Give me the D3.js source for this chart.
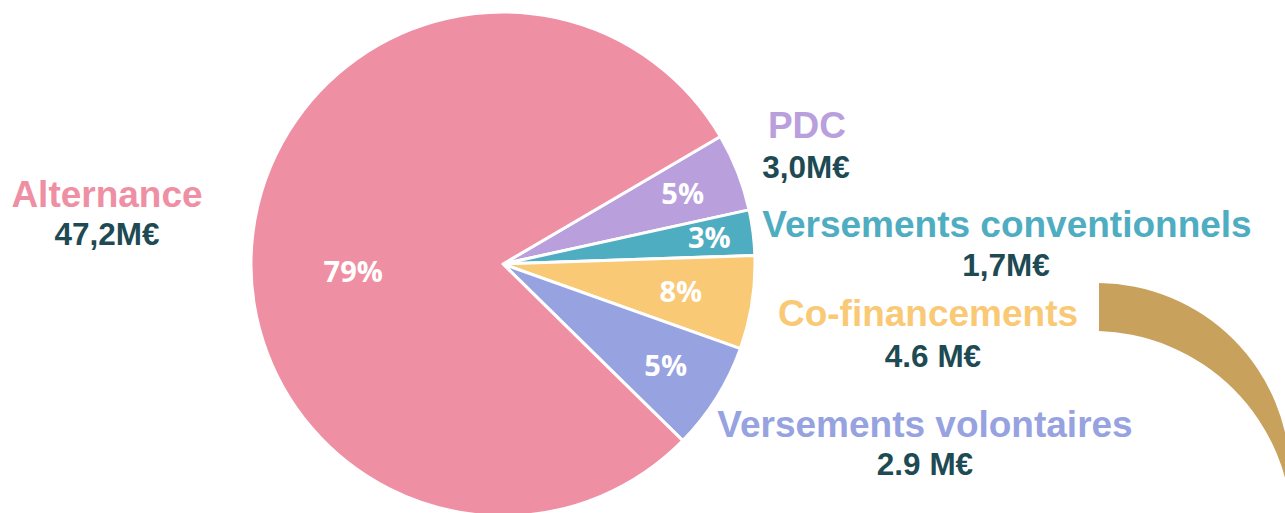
<!DOCTYPE html>
<html>
<head>
<meta charset="utf-8">
<script src="https://cdn.jsdelivr.net/npm/d3@7"></script>
<style>
  body { margin: 0; background: #fff; }
  svg { display: block; }
</style>
</head>
<body>
<div id="chart"></div>
<script>
// slices, clockwise from the top right edge of Alternance
var categories = ["PDC", "Versements conventionnels", "Co-financements", "Versements volontaires", "Alternance"];
var shares = [5.0, 2.9, 6.0, 6.9, 79.2];          // slice sizes as drawn (%)
var pctLabels = ["5%", "3%", "8%", "5%", "79%"];
var amountLabels = ["3,0M€", "1,7M€", "4.6 M€", "2.9 M€", "47,2M€"];
var colors = ["#b9a0dd", "#4eadc1", "#f9c975", "#97a2e1", "#ef8fa3"];

var width = 1285, height = 513;
var cx = 503, cy = 264, radius = 252;

var svg = d3.select("#chart").append("svg")
    .attr("width", width)
    .attr("height", height);

// decorative golden band on the right
var defs = svg.append("defs");
defs.append("clipPath").attr("id", "bandclip")
  .append("rect").attr("x", 1099).attr("y", 0).attr("width", 200).attr("height", height);

var band = d3.path();
band.moveTo(1097 + 193, 476);
band.arc(1097, 476, 193, 0, 2 * Math.PI);
band.moveTo(1093 + 199, 530);
band.arc(1093, 530, 199, 0, 2 * Math.PI);
svg.append("path")
    .attr("d", band.toString())
    .attr("fill", "#c8a15d")
    .attr("fill-rule", "evenodd")
    .attr("clip-path", "url(#bandclip)");

var start = 59.6 * Math.PI / 180;
var pie = d3.pie().sort(null).value(function (d) { return d; })
    .startAngle(start).endAngle(start + 2 * Math.PI);
var arcs = pie(shares);

var arc = d3.arc().innerRadius(0).outerRadius(radius);

var g = svg.append("g").attr("transform", "translate(" + cx + "," + cy + ")");

g.selectAll("path.slice")
  .data(arcs)
  .enter().append("path")
    .attr("class", "slice")
    .attr("d", arc)
    .attr("fill", function (d, i) { return colors[i]; })
    .attr("stroke", "#fff")
    .attr("stroke-width", 3)
    .attr("stroke-linejoin", "round");

// percent labels inside the slices
var labelRadius = [193, 208, 180, 192, 150];
var labelTurn = [0, 0, 0, 0, -10];
g.selectAll("text.pct")
  .data(arcs)
  .enter().append("text")
    .attr("class", "pct")
    .attr("transform", function (d, i) {
      var a = (d.startAngle + d.endAngle) / 2 + labelTurn[i] * Math.PI / 180;
      return "translate(" + (Math.sin(a) * labelRadius[i]) + "," + (-Math.cos(a) * labelRadius[i]) + ")";
    })
    .attr("text-anchor", "middle")
    .attr("dy", "0.36em")
    .attr("fill", "#fff")
    .style("font-family", "'Open Sans', sans-serif")
    .style("font-weight", 700)
    .style("font-size", "29px")
    .text(function (d, i) { return pctLabels[i]; });

// outside name + amount labels
var namePos = [[807, 138], [1007, 237], [928, 326], [925, 437], [107, 207]];
var amountPos = [[806, 178], [1006, 276], [933, 367], [925, 475], [107, 245]];

var outside = svg.append("g")
    .style("font-family", "'Liberation Sans', Arial, sans-serif")
    .style("font-weight", 700)
    .attr("text-anchor", "middle");

categories.forEach(function (c, i) {
  outside.append("text")
      .attr("x", namePos[i][0])
      .attr("y", namePos[i][1])
      .attr("fill", colors[i])
      .style("font-size", "37px")
      .text(c);
  outside.append("text")
      .attr("x", amountPos[i][0])
      .attr("y", amountPos[i][1])
      .attr("fill", "#1e4a53")
      .style("font-size", "31.5px")
      .text(amountLabels[i]);
});
</script>
</body>
</html>
